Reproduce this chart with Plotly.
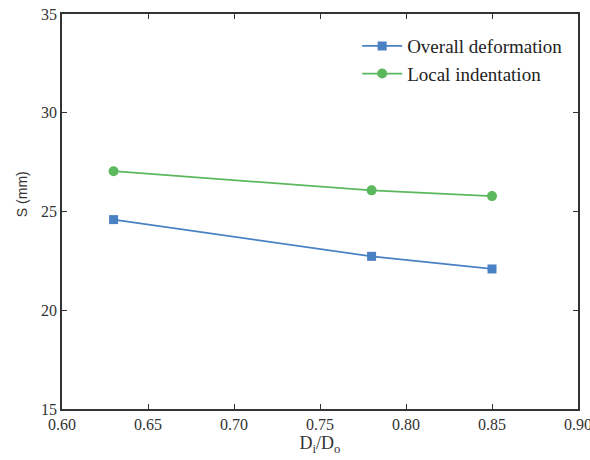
import plotly.graph_objects as go

# Diameter ratio and measured displacement values
ratio = [0.63, 0.78, 0.85]
overall_deformation = [24.59, 22.73, 22.09]
local_indentation = [27.04, 26.07, 25.78]

x_ticks = [0.60, 0.65, 0.70, 0.75, 0.80, 0.85, 0.90]
y_ticks = [15, 20, 25, 30, 35]

serif = "Times New Roman, Liberation Serif, serif"

fig = go.Figure()
fig.add_trace(go.Scatter(
    x=ratio, y=overall_deformation, mode="lines+markers",
    name="Overall deformation",
    line=dict(color="#4a80c4", width=1.8),
    marker=dict(symbol="square", size=9, color="#4a80c4"),
))
fig.add_trace(go.Scatter(
    x=ratio, y=local_indentation, mode="lines+markers",
    name="Local indentation",
    line=dict(color="#5cb85c", width=1.8),
    marker=dict(symbol="circle", size=10, color="#5cb85c"),
))

axis_common = dict(
    showline=True, linecolor="#333333", linewidth=1.6, mirror="ticks",
    ticks="inside", ticklen=5, tickwidth=1.4, tickcolor="#333333",
    showgrid=False, zeroline=False, automargin=False,
    ticklabeloverflow="allow",
    tickfont=dict(family=serif, size=16, color="#333333"),
)

fig.update_layout(
    width=590, height=460,
    margin=dict(l=62, r=12, t=14, b=51),
    plot_bgcolor="white", paper_bgcolor="white",
    font=dict(family=serif, size=16, color="#333333"),
    xaxis=dict(
        range=[0.60, 0.90], tickvals=x_ticks,
        ticktext=[f"{v:.2f}" for v in x_ticks],
        title=dict(text="D<sub>i</sub>/D<sub>o</sub>", standoff=4,
                   font=dict(family=serif, size=18, color="#333333")),
        **axis_common,
    ),
    yaxis=dict(
        range=[15, 35], tickvals=y_ticks,
        **axis_common,
    ),
    annotations=[dict(
        text="S (mm)", textangle=-90, showarrow=False,
        xref="paper", yref="paper", x=-0.0775, y=0.544,
        xanchor="center", yanchor="middle",
        font=dict(family="Liberation Sans", size=14, color="#333333"),
    )],
    legend=dict(
        x=0.572, y=0.967, xanchor="left", yanchor="top",
        bgcolor="rgba(0,0,0,0)",
        font=dict(family=serif, size=19, color="#222222"),
        itemwidth=40, tracegroupgap=0,
    ),
    showlegend=True,
)

fig.write_html("out.html")
